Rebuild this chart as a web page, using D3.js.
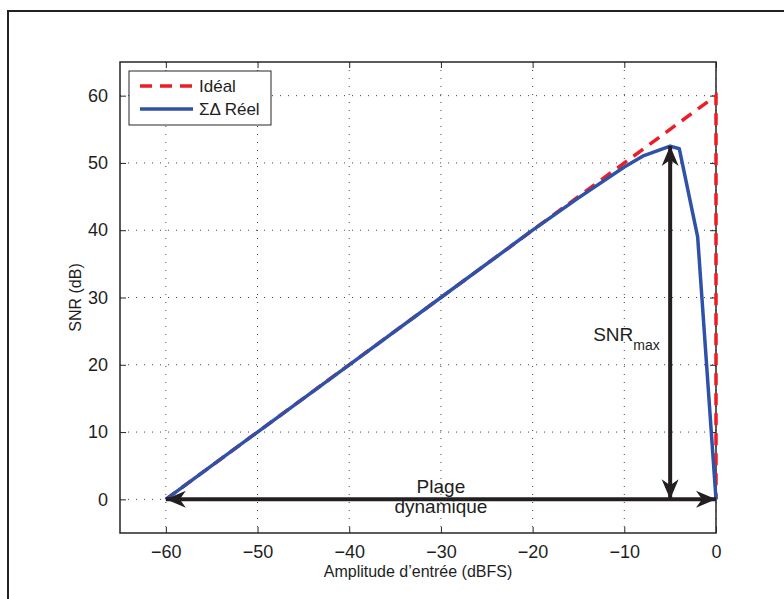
<!DOCTYPE html>
<html>
<head>
<meta charset="utf-8">
<script src="https://cdn.jsdelivr.net/npm/d3@7"></script>
<style>
  body { margin: 0; background: #fff; }
  text { font-family: "Liberation Sans", Arial, Helvetica, sans-serif; fill: #1e1e1e; }
</style>
</head>
<body>
<div id="wrapper"></div>
<script>
// values
const idealX = [-60, 0, 0];
const idealY = [0, 60, 0];
const realX = [-60, -50, -40, -30, -20, -15, -10, -8, -5, -4, -2, 0];
const realY = [0, 10, 20, 30, 40, 44.8, 49.4, 51.0, 52.5, 52.1, 39, 0];
const xTicks = [-60, -50, -40, -30, -20, -10, 0];
const yTicks = [0, 10, 20, 30, 40, 50, 60];
const legendLabels = ["Idéal", "ΣΔ Réel"];
// annotation arrows: SNRmax at -5 dBFS, dynamic range along 0 dB
const snrMaxX = -5, snrMaxY = 52.5;
const rangeFrom = -60, rangeTo = 0;

function drawChart() {
  const dimensions = {
    width: 784,
    height: 599,
    margin: { top: 62, right: 68, bottom: 66, left: 120 },
  };
  dimensions.boundedWidth = dimensions.width - dimensions.margin.left - dimensions.margin.right;
  dimensions.boundedHeight = dimensions.height - dimensions.margin.top - dimensions.margin.bottom;

  const wrapper = d3.select("#wrapper")
    .append("svg")
    .attr("width", dimensions.width)
    .attr("height", dimensions.height);

  // outer figure frame (cut by the picture edges)
  wrapper.append("path")
    .attr("d", "M8,610 L8,11 L800,11")
    .attr("fill", "none")
    .attr("stroke", "#222")
    .attr("stroke-width", 2);

  const bounds = wrapper.append("g")
    .attr("transform", `translate(${dimensions.margin.left},${dimensions.margin.top})`);

  const xScale = d3.scaleLinear()
    .domain([-65, 0])
    .range([0, dimensions.boundedWidth]);

  const yScale = d3.scaleLinear()
    .domain([-5, 65])
    .range([dimensions.boundedHeight, 0]);

  // dotted grid
  bounds.append("g").selectAll("line")
    .data(xTicks)
    .join("line")
    .attr("x1", d => xScale(d)).attr("x2", d => xScale(d))
    .attr("y1", 0).attr("y2", dimensions.boundedHeight)
    .attr("stroke", "#444").attr("stroke-width", 1)
    .attr("stroke-dasharray", "1,7");
  bounds.append("g").selectAll("line")
    .data(yTicks)
    .join("line")
    .attr("y1", d => yScale(d)).attr("y2", d => yScale(d))
    .attr("x1", 0).attr("x2", dimensions.boundedWidth)
    .attr("stroke", "#444").attr("stroke-width", 1)
    .attr("stroke-dasharray", "1,7");

  // axes, ticks inward on all four sides
  const tickLen = 6;
  bounds.append("g")
    .attr("transform", `translate(0,${dimensions.boundedHeight})`)
    .call(d3.axisBottom(xScale).tickValues(xTicks).tickSizeInner(-tickLen).tickSizeOuter(0)
      .tickPadding(12).tickFormat(d => d < 0 ? "\u2212" + Math.abs(d) : d));
  bounds.append("g")
    .call(d3.axisLeft(yScale).tickValues(yTicks).tickSizeInner(-tickLen).tickSizeOuter(0)
      .tickPadding(12));
  bounds.append("g")
    .call(d3.axisTop(xScale).tickValues(xTicks).tickSizeInner(-tickLen).tickSizeOuter(0).tickFormat(""));
  bounds.append("g")
    .attr("transform", `translate(${dimensions.boundedWidth},0)`)
    .call(d3.axisRight(yScale).tickValues(yTicks).tickSizeInner(-tickLen).tickSizeOuter(0).tickFormat(""));

  bounds.selectAll(".domain").remove();
  bounds.selectAll(".tick line").attr("stroke", "#262626");
  bounds.selectAll(".tick text")
    .attr("font-family", "Liberation Sans, Arial, sans-serif")
    .attr("font-size", 18)
    .attr("fill", "#1e1e1e");

  bounds.append("rect")
    .attr("width", dimensions.boundedWidth)
    .attr("height", dimensions.boundedHeight)
    .attr("fill", "none")
    .attr("stroke", "#262626")
    .attr("stroke-width", 1.5);

  // lines: ideal first, the real curve drawn over it
  const idealData = idealX.map((x, i) => ({ x, y: idealY[i] }));
  const realData = realX.map((x, i) => ({ x, y: realY[i] }));
  const line = d3.line().x(d => xScale(d.x)).y(d => yScale(d.y));

  bounds.append("path")
    .datum(idealData)
    .attr("d", line)
    .attr("fill", "none")
    .attr("stroke", "#ee1c25")
    .attr("stroke-width", 3.5)
    .attr("stroke-dasharray", "12,8");

  bounds.append("path")
    .datum(realData)
    .attr("d", line)
    .attr("fill", "none")
    .attr("stroke", "#2f52a8")
    .attr("stroke-width", 3.5)
    .attr("stroke-linejoin", "round");

  // arrows
  function arrowHead(tipX, tipY, angle) {
    const L = 20, W = 8.5, N = 6;
    const pts = [[0, 0], [-L, -W], [-L + N, 0], [-L, W]];
    const c = Math.cos(angle), s = Math.sin(angle);
    const p = pts.map(([a, b]) => [tipX + a * c - b * s, tipY + a * s + b * c]);
    bounds.append("path")
      .attr("d", "M" + p.join("L") + "Z")
      .attr("fill", "#231f20");
  }
  function arrow(x1, y1, x2, y2) {
    const ang = Math.atan2(y2 - y1, x2 - x1);
    bounds.append("line")
      .attr("x1", x1).attr("y1", y1).attr("x2", x2).attr("y2", y2)
      .attr("stroke", "#231f20").attr("stroke-width", 4);
    arrowHead(x2, y2, ang);
    arrowHead(x1, y1, ang + Math.PI);
  }
  arrow(xScale(snrMaxX), yScale(0), xScale(snrMaxX), yScale(snrMaxY));
  arrow(xScale(rangeFrom), yScale(0), xScale(rangeTo), yScale(0));

  // annotations
  const snrText = bounds.append("text")
    .attr("x", xScale(snrMaxX) - 77)
    .attr("y", yScale(23.6))
    .attr("font-size", 19);
  snrText.append("tspan").text("SNR");
  snrText.append("tspan").attr("dy", 9).attr("font-size", 14).text("max");

  const midX = (xScale(rangeFrom) + xScale(rangeTo)) / 2;
  bounds.append("text")
    .attr("x", midX).attr("y", yScale(1))
    .attr("text-anchor", "middle").attr("font-size", 19)
    .text("Plage");
  bounds.append("text")
    .attr("x", midX).attr("y", yScale(-2.1))
    .attr("text-anchor", "middle").attr("font-size", 19)
    .text("dynamique");

  // axis labels
  bounds.append("text")
    .attr("x", dimensions.boundedWidth / 2)
    .attr("y", dimensions.boundedHeight + 44)
    .attr("text-anchor", "middle").attr("font-size", 16)
    .text("Amplitude d’entrée (dBFS)");
  bounds.append("text")
    .attr("transform", `translate(-39,${dimensions.boundedHeight / 2}) rotate(-90)`)
    .attr("text-anchor", "middle").attr("font-size", 16)
    .text("SNR (dB)");

  // legend
  const legend = bounds.append("g").attr("transform", "translate(9,9)");
  legend.append("rect")
    .attr("width", 142).attr("height", 54)
    .attr("fill", "#fff").attr("stroke", "#262626").attr("stroke-width", 1);
  const legendStyles = [
    { stroke: "#ee1c25", dash: "12,8" },
    { stroke: "#2f52a8", dash: null },
  ];
  legendLabels.forEach((label, i) => {
    const y = 15 + i * 23;
    legend.append("line")
      .attr("x1", 11).attr("x2", 64).attr("y1", y).attr("y2", y)
      .attr("stroke", legendStyles[i].stroke).attr("stroke-width", 3.5)
      .attr("stroke-dasharray", legendStyles[i].dash);
    legend.append("text")
      .attr("x", 70).attr("y", y + 6)
      .attr("font-size", 17)
      .text(label);
  });
}

drawChart();
</script>
</body>
</html>
